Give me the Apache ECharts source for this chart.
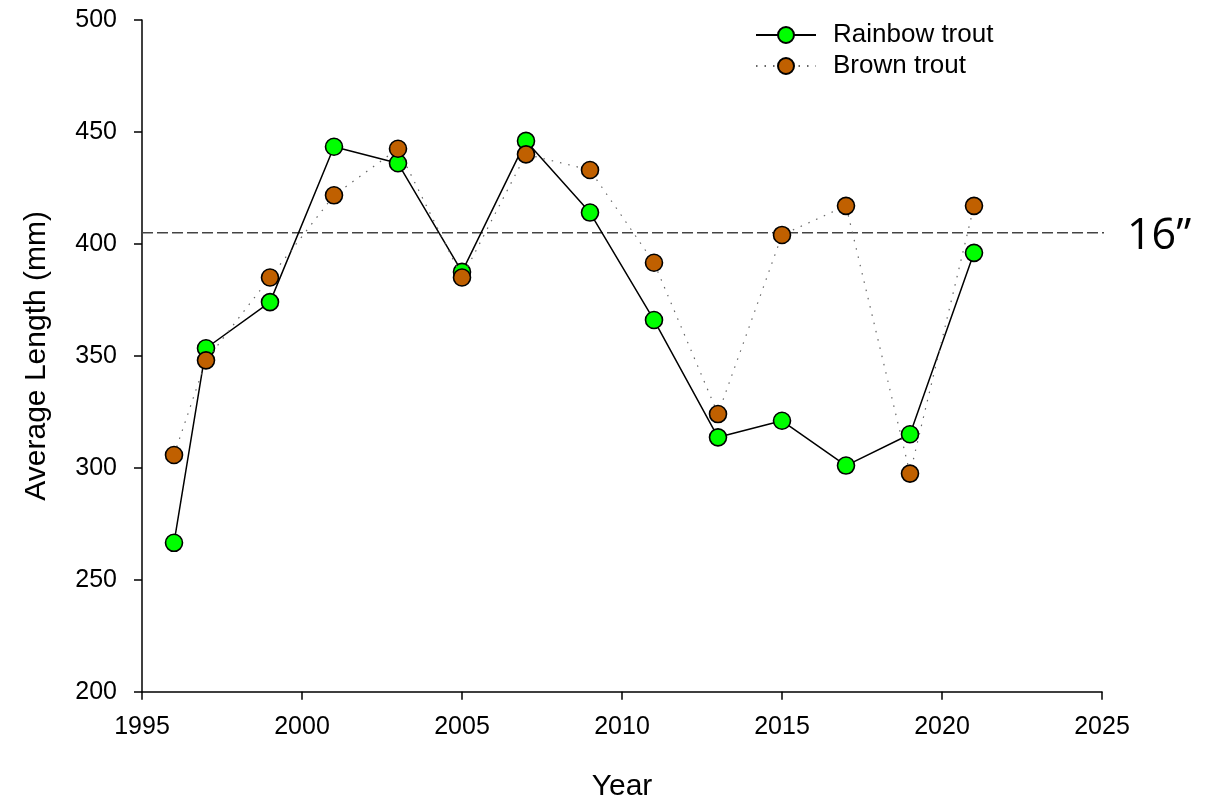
<!DOCTYPE html>
<html>
<head>
<meta charset="utf-8">
<script src="https://cdn.jsdelivr.net/npm/echarts@6/dist/echarts.min.js"></script>
<style>
html,body{margin:0;padding:0;background:#fff;}
#chart{width:1223px;height:803px;}
</style>
</head>
<body>
<div id="chart"></div>
<script>
const years = [1996, 1997, 1999, 2001, 2003, 2005, 2007, 2009, 2011, 2013, 2015, 2017, 2019, 2021];
const rainbowTrout = [266.5, 353.4, 374, 443.4, 436, 387.5, 446, 414, 366, 313.6, 321, 301, 315, 396];
const brownTrout = [305.7, 348, 385, 421.7, 442.5, 385, 440, 433, 391.6, 324, 404, 417, 297.4, 417];
const thresholdValue = 405;
const thresholdX = [1995, 2025.2];
const thresholdLabel = '16\u201D';
const xTicks = [1995, 2000, 2005, 2010, 2015, 2020, 2025];
const yTicks = [200, 250, 300, 350, 400, 450, 500];

const FONT = '"Liberation Sans", Arial, sans-serif';
const chart = echarts.init(document.getElementById('chart'), null, {renderer: 'canvas'});

const pairs = (xs, ys) => xs.map((x, i) => [x, ys[i]]);

chart.setOption({
  animation: false,
  backgroundColor: '#ffffff',
  grid: {left: 142, top: 20, width: 960, height: 671.7, containLabel: false, outerBoundsMode: 'none'},
  legend: {
    orient: 'vertical',
    left: 755,
    top: 22,
    padding: 0,
    itemWidth: 60,
    itemHeight: 20,
    itemGap: 5,
    textStyle: {fontFamily: FONT, fontSize: 26, color: '#000', padding: [0, 0, 0, 12]},
    data: ['Rainbow trout', 'Brown trout']
  },
  xAxis: {
    type: 'value',
    min: xTicks[0],
    max: xTicks[xTicks.length - 1],
    interval: 5,
    name: 'Year',
    nameLocation: 'middle',
    nameGap: 80,
    nameTextStyle: {fontFamily: FONT, fontSize: 30, color: '#000'},
    axisLine: {show: true, onZero: false, lineStyle: {color: '#000', width: 1.5}},
    axisTick: {show: true, inside: false, length: 8, lineStyle: {color: '#000', width: 1.5}},
    axisLabel: {fontFamily: FONT, fontSize: 25, color: '#000', margin: 23, formatter: v => String(v)},
    splitLine: {show: false}
  },
  yAxis: {
    type: 'value',
    min: yTicks[0],
    max: yTicks[yTicks.length - 1],
    interval: 50,
    name: 'Average Length (mm)',
    nameLocation: 'middle',
    nameGap: 90,
    nameTextStyle: {fontFamily: FONT, fontSize: 30, color: '#000'},
    axisLine: {show: true, onZero: false, lineStyle: {color: '#000', width: 1.5}},
    axisTick: {show: true, inside: false, length: 8, lineStyle: {color: '#000', width: 1.5}},
    axisLabel: {fontFamily: FONT, fontSize: 25, color: '#000', margin: 25},
    splitLine: {show: false}
  },
  series: [
    {
      name: 'threshold',
      type: 'line',
      data: thresholdX.map(x => [x, thresholdValue]),
      symbol: 'none',
      clip: false,
      silent: true,
      lineStyle: {color: '#444', width: 1.5, type: [11, 4]},
      endLabel: {show: true, formatter: thresholdLabel, distance: 23, offset: [0, 4], fontFamily: '"Open Sans", sans-serif', fontSize: 43, color: '#000'},
      z: 1
    },
    {
      name: 'Rainbow trout',
      type: 'line',
      data: pairs(years, rainbowTrout),
      symbol: 'circle',
      symbolSize: 17,
      showAllSymbol: true,
      lineStyle: {color: '#000', width: 1.5, type: 'solid'},
      itemStyle: {color: '#00ff00', borderColor: '#000', borderWidth: 1.6},
      z: 2
    },
    {
      name: 'Brown trout',
      type: 'line',
      data: pairs(years, brownTrout),
      symbol: 'circle',
      symbolSize: 17,
      showAllSymbol: true,
      lineStyle: {color: '#666', width: 1.2, type: [1.5, 7]},
      itemStyle: {color: '#c06000', borderColor: '#000', borderWidth: 1.6},
      z: 3
    }
  ]
});
</script>
</body>
</html>
